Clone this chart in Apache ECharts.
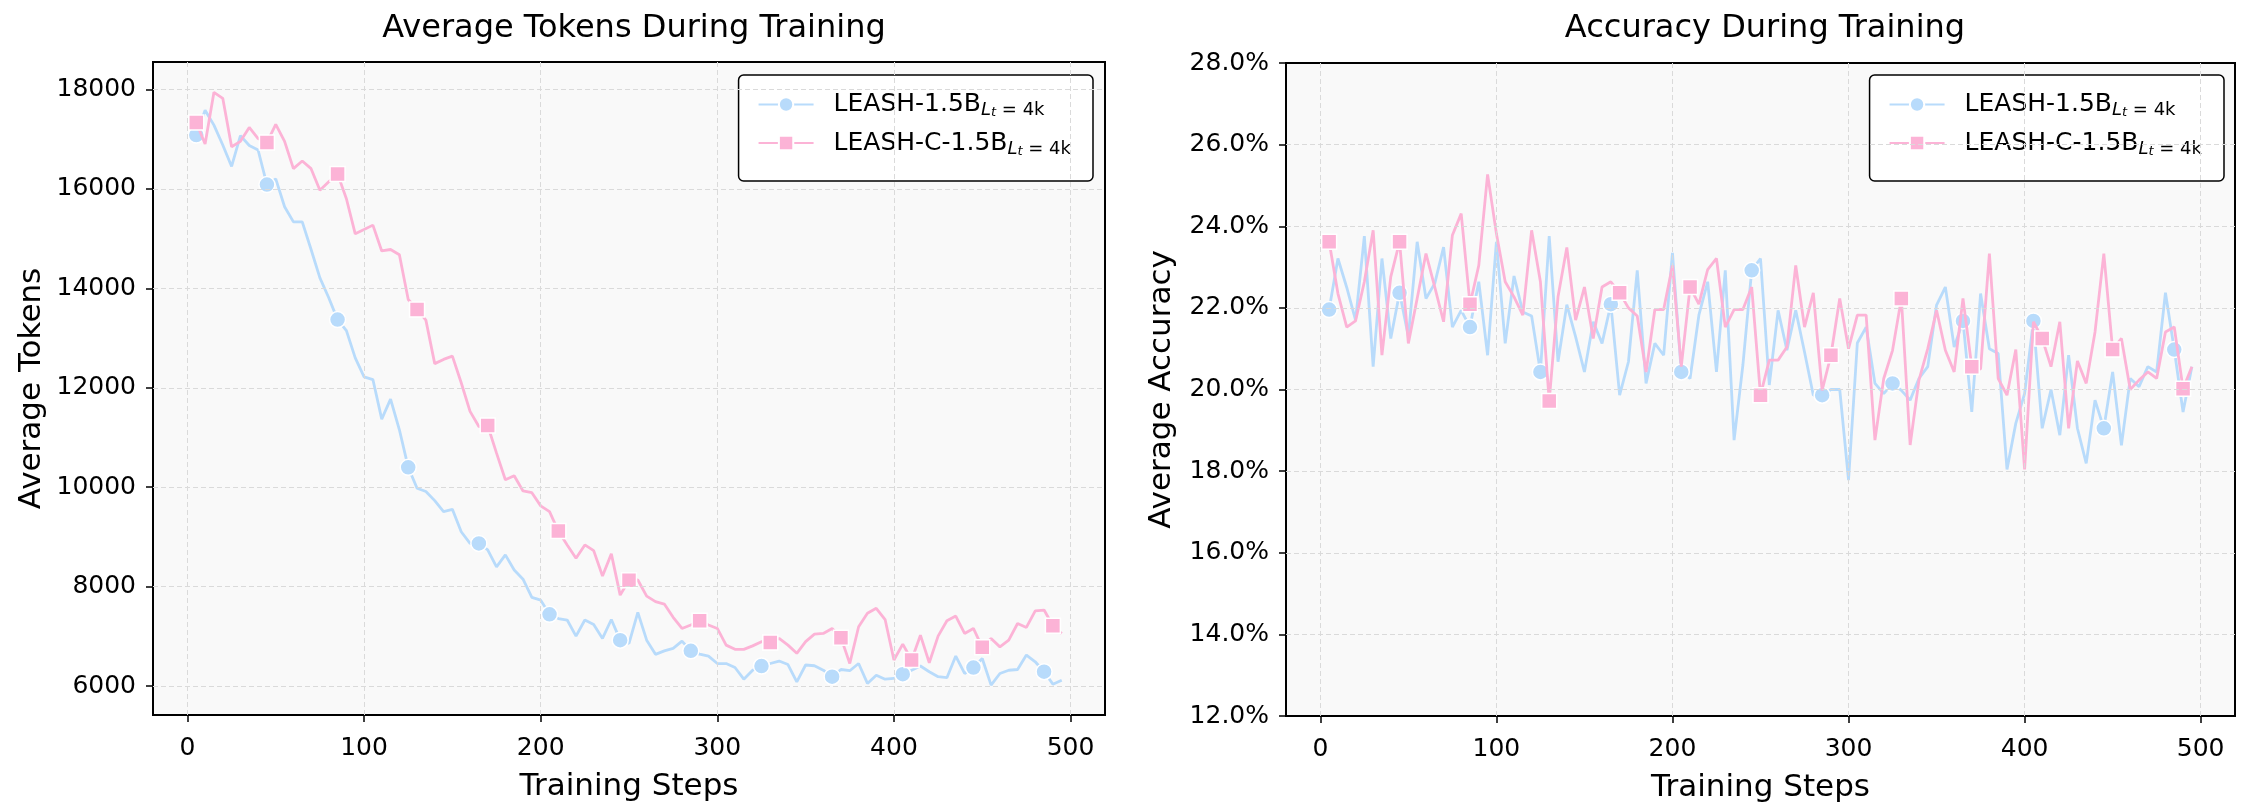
<!DOCTYPE html>
<html>
<head>
<meta charset="utf-8">
<script src="https://cdn.jsdelivr.net/npm/echarts@6/dist/echarts.min.js"></script>
<style>
  html, body { margin: 0; padding: 0; background: #fff; }
  #main { width: 2251px; height: 811px; }
</style>
</head>
<body>
<div id="main"></div>
<script>
// training steps (x)
var steps = [
  5, 10, 15, 20, 25, 30, 35, 40, 45, 50,
  55, 60, 65, 70, 75, 80, 85, 90, 95, 100,
  105, 110, 115, 120, 125, 130, 135, 140, 145, 150,
  155, 160, 165, 170, 175, 180, 185, 190, 195, 200,
  205, 210, 215, 220, 225, 230, 235, 240, 245, 250,
  255, 260, 265, 270, 275, 280, 285, 290, 295, 300,
  305, 310, 315, 320, 325, 330, 335, 340, 345, 350,
  355, 360, 365, 370, 375, 380, 385, 390, 395, 400,
  405, 410, 415, 420, 425, 430, 435, 440, 445, 450,
  455, 460, 465, 470, 475, 480, 485, 490, 495
];

// average tokens
var tokensLeash = [
  17080, 17580, 17280, 16880, 16450, 17070, 16870, 16780, 16085, 16200,
  15640, 15335, 15335, 14780, 14210, 13810, 13370, 13150, 12600, 12220,
  12165, 11370, 11770, 11155, 10400, 9980, 9915, 9730, 9510, 9555,
  9105, 8870, 8870, 8740, 8400, 8640, 8335, 8150, 7785, 7730,
  7445, 7360, 7330, 7005, 7330, 7240, 6960, 7340, 6925, 6860,
  7485, 6925, 6640, 6710, 6760, 6905, 6710, 6645, 6605, 6455,
  6455, 6375, 6140, 6320, 6405, 6455, 6505, 6435, 6085, 6425,
  6410, 6320, 6190, 6335, 6310, 6455, 6055, 6220, 6140, 6155,
  6240, 6320, 6405, 6290, 6190, 6170, 6605, 6255, 6375, 6555,
  6020, 6255, 6320, 6335, 6625, 6490, 6290, 6040, 6120
];
var tokensLeashC = [
  17335, 16900, 17940, 17820, 16845, 16955, 17235, 17010, 16930, 17295,
  16955, 16405, 16560, 16405, 15970, 16140, 16300, 15800, 15095, 15180,
  15270, 14750, 14780, 14675, 13775, 13575, 13360, 12485, 12570, 12635,
  12100, 11525, 11220, 11240, 10685, 10150, 10230, 9925, 9890, 9625,
  9510, 9120, 8840, 8570, 8840, 8725, 8215, 8660, 7830, 8130,
  8135, 7810, 7700, 7650, 7385, 7160, 7230, 7315, 7230, 7160,
  6825, 6740, 6740, 6810, 6895, 6880, 6960, 6825, 6660, 6895,
  7045, 7060, 7160, 6975, 6455, 7195, 7465, 7565, 7340, 6525,
  6845, 6525, 7025, 6470, 7005, 7315, 7410, 7060, 7160, 6780,
  6960, 6790, 6925, 7260, 7180, 7515, 7530, 7215, 7060
];

// average accuracy (%)
var accLeash = [
  21.96, 23.21, 22.5, 21.70, 23.76, 20.56, 23.21, 21.25, 22.37, 21.3,
  23.62, 22.23, 22.6, 23.49, 21.53, 21.94, 21.53, 22.64, 20.84, 23.62,
  21.13, 22.78, 21.90, 21.80, 20.43, 23.76, 20.68, 22.08, 21.29, 20.43,
  21.66, 21.13, 22.09, 19.86, 20.68, 22.92, 20.15, 21.13, 20.84, 23.35,
  20.43, 20.27, 21.82, 22.64, 20.43, 22.92, 18.76, 20.6, 22.92, 23.21,
  20.11, 21.94, 20.96, 21.94, 20.92, 19.86, 19.86, 20.0, 20.0, 17.78,
  21.14, 21.53, 20.15, 19.90, 20.15, 19.98, 19.74, 20.27, 20.56, 22.07,
  22.51, 21.04, 21.68, 19.45, 22.35, 21.0, 20.88, 18.04, 19.17, 19.9,
  21.68, 19.05, 20.0, 18.88, 20.84, 19.05, 18.19, 19.74, 19.05, 20.43,
  18.63, 20.27, 20.07, 20.56, 20.43, 22.37, 20.98, 19.45, 20.56
];
var accLeashC = [
  23.62, 22.35, 21.53, 21.68, 22.64, 23.90, 20.84, 22.76, 23.62, 21.13,
  22.23, 23.33, 22.51, 21.66, 23.78, 24.31, 22.09, 23.04, 25.27, 23.82,
  22.64, 22.27, 21.82, 23.90, 22.64, 19.72, 22.27, 23.48, 21.70, 22.51,
  21.25, 22.51, 22.64, 22.37, 22.0, 21.8, 20.43, 21.96, 21.96, 23.04,
  20.56, 22.51, 22.09, 22.94, 23.21, 21.53, 21.96, 21.96, 22.51, 19.86,
  20.72, 20.72, 21.04, 23.04, 21.53, 22.37, 19.98, 20.84, 22.23, 21.0,
  21.82, 21.82, 18.76, 20.27, 20.96, 22.23, 18.64, 20.23, 21.0, 21.94,
  20.96, 20.43, 22.23, 20.56, 20.5, 23.33, 20.27, 19.86, 20.98, 18.04,
  21.66, 21.25, 20.56, 21.66, 19.05, 20.70, 20.15, 21.41, 23.33, 20.98,
  21.25, 20.0, 20.23, 20.43, 20.27, 21.41, 21.53, 20.02, 20.56
];

// steps that carry a marker
var markLeash = [5, 45, 85, 125, 165, 205, 245, 285, 325, 365, 405, 445, 485];
var markLeashC = [5, 45, 85, 130, 170, 210, 250, 290, 330, 370, 410, 450, 490];

// tick labels
var stepTicks = [0, 100, 200, 300, 400, 500];
var tokenTicks = [6000, 8000, 10000, 12000, 14000, 16000, 18000];
var accTicks = [12, 14, 16, 18, 20, 22, 24, 26, 28];

var blue = '#b8dbfb';
var pink = '#fcb3d6';
var FONT = 'DejaVu Sans';

var myChart = echarts.init(document.getElementById('main'));

function toData(vals, marks) {
  return steps.map(function (s, i) {
    if (marks.indexOf(s) >= 0) return [s, vals[i]];
    return { value: [s, vals[i]], symbol: 'none' };
  });
}

function lineSeries(name, vals, marks, symbol, color, idx, z) {
  return {
    name: name,
    type: 'line',
    xAxisIndex: idx,
    yAxisIndex: idx,
    data: toData(vals, marks),
    symbol: symbol,
    symbolSize: symbol === 'rect' ? 15 : 16,
    z: z,
    lineStyle: { color: color, width: 2.8 },
    itemStyle: { color: color, borderColor: '#fff', borderWidth: 1.5 },
    emphasis: { disabled: true }
  };
}

// dashed grid lines at the inner ticks, drawn through the axis scales
function gridSeries(idx, yTicks, yMin, yMax) {
  var lines = stepTicks.map(function (v) { return { xAxis: v }; })
    .concat(yTicks.filter(function (v) { return v > yMin && v < yMax; })
      .map(function (v) { return { yAxis: v }; }));
  return {
    type: 'line',
    xAxisIndex: idx,
    yAxisIndex: idx,
    data: [],
    z: 1,
    markLine: {
      silent: true,
      symbol: ['none', 'none'],
      label: { show: false },
      lineStyle: { type: [5, 3], color: '#dadada', width: 1 },
      data: lines
    }
  };
}

function xAxisOf(idx) {
  return {
    gridIndex: idx,
    type: 'value',
    min: -19.5,
    max: 519.5,
    axisLine: { show: false, onZero: false },
    axisTick: { show: true, length: 7, customValues: stepTicks, lineStyle: { color: '#000', width: 1.5 } },
    axisLabel: { customValues: stepTicks, fontSize: 25, color: '#000', fontFamily: FONT, margin: 21 },
    splitLine: { show: false },
    name: 'Training Steps',
    nameLocation: 'middle',
    nameGap: 56,
    nameTextStyle: { fontSize: 31, color: '#000', fontFamily: FONT }
  };
}

function legendOf(right) {
  return {
    data: ['LEASH-1.5B', 'LEASH-C-1.5B'],
    orient: 'vertical',
    right: right,
    top: 75,
    itemWidth: 55,
    itemHeight: 18,
    itemGap: 11,
    padding: [17, 22, 23, 19],
    backgroundColor: '#fff',
    borderColor: '#000',
    borderWidth: 1.5,
    borderRadius: 5,
    formatter: function (name) {
      return '{m|' + name + '}{si|L}{ti|t}{s| = 4k}';
    },
    textStyle: {
      fontFamily: FONT,
      color: '#000',
      rich: {
        m: { fontSize: 25, lineHeight: 30, fontFamily: FONT, color: '#000', padding: [0, 0, 0, 15] },
        si: { fontSize: 18, lineHeight: 18, fontStyle: 'italic', verticalAlign: 'bottom', fontFamily: FONT, color: '#000' },
        ti: { fontSize: 13, lineHeight: 8, fontStyle: 'italic', verticalAlign: 'bottom', fontFamily: FONT, color: '#000' },
        s: { fontSize: 18, lineHeight: 18, verticalAlign: 'bottom', fontFamily: FONT, color: '#000' }
      }
    }
  };
}

var gridStyle = { show: true, backgroundColor: '#f9f9f9', borderColor: '#000', borderWidth: 2 };

var option = {
  animation: false,
  backgroundColor: '#fff',
  textStyle: { fontFamily: FONT },
  title: [
    { text: 'Average Tokens During Training', left: 629, top: 8, textAlign: 'center',
      textStyle: { fontSize: 32, fontWeight: 'normal', color: '#000', fontFamily: FONT } },
    { text: 'Accuracy During Training', left: 1760, top: 8, textAlign: 'center',
      textStyle: { fontSize: 32, fontWeight: 'normal', color: '#000', fontFamily: FONT } }
  ],
  grid: [
    Object.assign({ left: 153, top: 62, width: 952, height: 653 }, gridStyle),
    Object.assign({ left: 1286, top: 63, width: 949, height: 653 }, gridStyle)
  ],
  legend: [legendOf(2251 - 1093), legendOf(2251 - 2224)],
  xAxis: [xAxisOf(0), xAxisOf(1)],
  yAxis: [
    {
      gridIndex: 0,
      type: 'value',
      min: 5420,
      max: 18550,
      axisLine: { show: false, onZero: false },
      axisTick: { show: true, length: 7, customValues: tokenTicks, lineStyle: { color: '#000', width: 1.5 } },
      axisLabel: { customValues: tokenTicks, fontSize: 25, color: '#000', fontFamily: FONT, margin: 17,
        formatter: function (v) { return String(v); } },
      splitLine: { show: false },
      name: 'Average Tokens',
      nameLocation: 'middle',
      nameGap: 106,
      nameTextStyle: { fontSize: 31, color: '#000', fontFamily: FONT }
    },
    {
      gridIndex: 1,
      type: 'value',
      min: 12,
      max: 28,
      axisLine: { show: false, onZero: false },
      axisTick: { show: true, length: 7, customValues: accTicks, lineStyle: { color: '#000', width: 1.5 } },
      axisLabel: { customValues: accTicks, fontSize: 25, color: '#000', fontFamily: FONT, margin: 17,
        formatter: function (v) { return v.toFixed(1) + '%'; } },
      splitLine: { show: false },
      name: 'Average Accuracy',
      nameLocation: 'middle',
      nameGap: 109,
      nameTextStyle: { fontSize: 31, color: '#000', fontFamily: FONT }
    }
  ],
  series: [
    gridSeries(0, tokenTicks, 5420, 18550),
    gridSeries(1, accTicks, 12, 28),
    lineSeries('LEASH-1.5B', tokensLeash, markLeash, 'circle', blue, 0, 3),
    lineSeries('LEASH-C-1.5B', tokensLeashC, markLeashC, 'rect', pink, 0, 4),
    lineSeries('LEASH-1.5B', accLeash, markLeash, 'circle', blue, 1, 3),
    lineSeries('LEASH-C-1.5B', accLeashC, markLeashC, 'rect', pink, 1, 4)
  ]
};

myChart.setOption(option);
</script>
</body>
</html>
